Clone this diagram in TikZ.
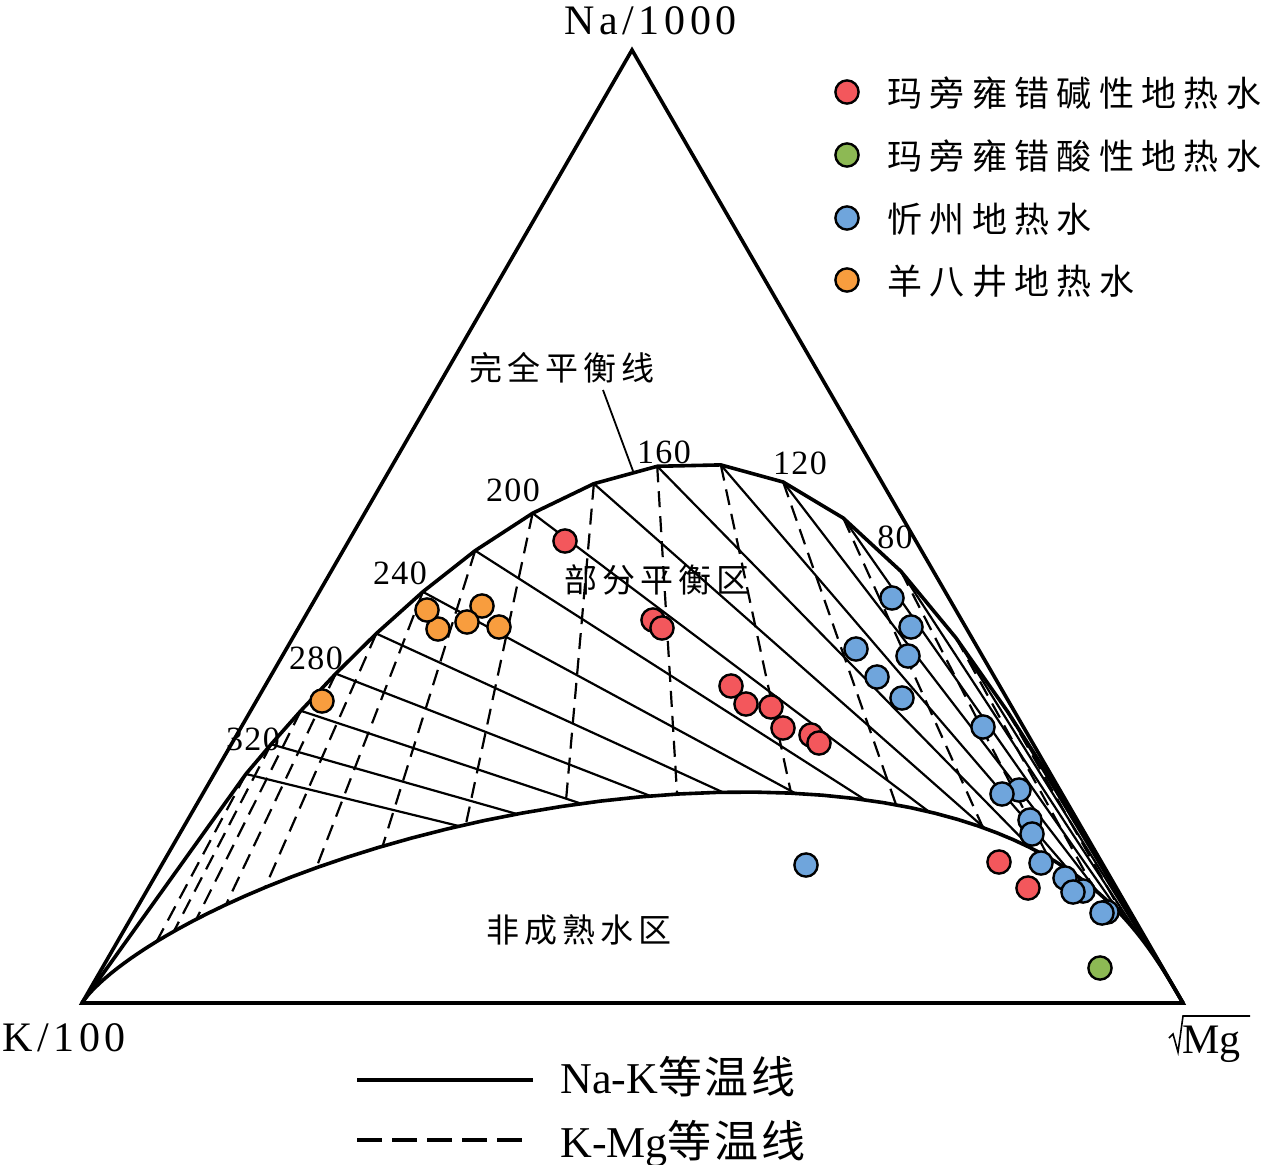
\documentclass[tikz,border=0pt]{standalone}
\usepackage{fontspec}
\setmainfont{Liberation Serif}
\newfontfamily\axfont[LetterSpace=11]{Liberation Serif}
\newfontfamily\numfont[LetterSpace=4]{Liberation Serif}
\newfontfamily\cjkleg[LetterSpace=21]{Noto Sans CJK SC}
\newfontfamily\cjkreg[LetterSpace=15]{Noto Sans CJK SC}
\newfontfamily\cjkbot[LetterSpace=6]{Noto Sans CJK SC}
% ternary mapping: #1 = log10(Na/K), #2 = log10(K/sqrt(Mg))
\newcommand\gbX[2]{\fpeval{round((632*10^(#1)/1000+0.82+1183*10^(-(#2)))/(10^(#1)/1000+0.01+10^(-(#2))),2)}}
\newcommand\gbY[2]{\fpeval{round((50*10^(#1)/1000+10.03+1003*10^(-(#2)))/(10^(#1)/1000+0.01+10^(-(#2))),2)}}
\definecolor{cred}{RGB}{243,87,92}
\definecolor{cgreen}{RGB}{141,185,84}
\definecolor{cblue}{RGB}{111,165,220}
\definecolor{corange}{RGB}{248,157,62}
\tikzset{
  frame/.style={line width=1.8pt, line join=miter},
  eqcurve/.style={line width=1.8pt, line join=round},
  naK/.style={line width=1.1pt},
  kMg/.style={line width=1.1pt, dash pattern=on 8pt off 4.5pt},
  leader/.style={line width=0.9pt},
  radical/.style={line width=0.8pt, line join=miter},
  sample/.style={circle, draw=black, line width=1.2pt, minimum size=11.6pt, inner sep=0pt},
  numlab/.style={inner sep=0pt, font=\fontsize{17}{20}\selectfont\numfont},
  reglab/.style={inner sep=0pt, anchor=west, font=\fontsize{16.5}{20}\selectfont\cjkreg},
  leglab/.style={inner sep=0pt, anchor=west, font=\fontsize{17.5}{21}\selectfont\cjkleg},
  axlab/.style={inner sep=0pt, anchor=base west, font=\fontsize{21}{25}\selectfont\axfont},
  mglab/.style={inner sep=0pt, anchor=base west, font=\fontsize{21}{25}\selectfont},
  botlab/.style={inner sep=0pt, anchor=base west, font=\fontsize{22}{26}\selectfont},
  legsolid/.style={line width=1.7pt},
  legdash/.style={line width=1.7pt, dash pattern=on 12.5pt off 5pt}
}
\begin{document}
\begin{tikzpicture}[x=0.5pt,y=-0.5pt]
\useasboundingbox (0,0) rectangle (1262,1164);
\coordinate (T) at (632,50);
\coordinate (BL) at (82,1003);
\coordinate (BR) at (1183,1003);

% isotherm points
\foreach \t in {20,40,...,340}{
  \edef\lnk{\fpeval{1390/(\t+273.15)-1.75}}
  \edef\lkm{\fpeval{(14-4410/(\t+273.15))/2}}
  \edef\lkmN{\fpeval{(2-(\lnk))/0.63}}
  \edef\lnkM{\fpeval{2-0.63*(\lkm)}}
  \edef\fx{\gbX{\lnk}{\lkm}}\edef\fy{\gbY{\lnk}{\lkm}}
  \edef\nx{\gbX{\lnk}{\lkmN}}\edef\ny{\gbY{\lnk}{\lkmN}}
  \edef\mx{\gbX{\lnkM}{\lkm}}\edef\my{\gbY{\lnkM}{\lkm}}
  \coordinate (F\t) at (\fx,\fy);
  \coordinate (N\t) at (\nx,\ny);
  \coordinate (M\t) at (\mx,\my);
}

% immature-water boundary (MI = 2.0)
\gdef\lowpath{}
\foreach \u in {-1.6,-1.55,...,4.6}{
  \edef\lk{\fpeval{(2-(\u))/0.63}}
  \xdef\lowpath{\lowpath -- (\gbX{\u}{\lk},\gbY{\u}{\lk})}
}

% isotherms
\foreach \t in {20,40,...,340}{
  \draw[naK] (F\t) -- (N\t);
  \draw[kMg] (F\t) -- (M\t);
}

% curves
\draw[eqcurve] (BL) \foreach \t in {340,320,...,20}{ -- (F\t) } -- (BR);
\draw[eqcurve] (BL) \lowpath -- (BR);

% triangle
\draw[frame] (T) -- (BL) -- (BR) -- cycle;

% leader for full-equilibrium line
\coordinate (ldA) at (603,390);
\coordinate (ldB) at (633,471);
\draw[leader] (ldA) -- (ldB);

% samples
\foreach \p [count=\i] in {(565,541),(653,620),(662,628),(731,686),(746,704),(771,707),(783,728),(811,735),(819,743),(999,862),(1028,888)}
  \node[sample, fill=cred] (r\i) at \p {};
\node[sample, fill=cgreen] (g1) at (1100,968) {};
\foreach \p [count=\i] in {(892,598),(911,627),(856,649),(908,656),(877,677),(902,698),(983,727),(1019,790),(1002,794),(1030,820),(1032,834),(1041,863),(1083,891),(1065,878),(1073,892),(1107,912),(1102,913),(806,865)}
  \node[sample, fill=cblue] (b\i) at \p {};
\foreach \p [count=\i] in {(438,629),(427,610),(482,606),(467,622),(499,627),(322,701)}
  \node[sample, fill=corange] (o\i) at \p {};

% temperature labels
\node[numlab] (t320) at (253,739) {320};
\node[numlab] (t280) at (316,658) {280};
\node[numlab] (t240) at (400,573) {240};
\node[numlab] (t200) at (513,490) {200};
\node[numlab] (t160) at (664,452) {160};
\node[numlab] (t120) at (800,463) {120};
\node[numlab] (t80) at (895,537) {80};

% region labels
\node[reglab] (lfull) at (469,368) {完全平衡线};
\node[reglab] (lpart) at (564,580) {部分平衡区};
\node[reglab] (limm) at (486,930) {非成熟水区};

% axis labels
\node[axlab] (axNa) at (564,34) {Na/1000};
\node[axlab] (axK) at (2,1051) {K/100};
\node[mglab] (axMg) at (1182,1053) {Mg};
\coordinate (rdA) at (1169,1038);
\coordinate (rdB) at (1173,1034);
\coordinate (rdC) at (1178,1052);
\coordinate (rdD) at (1183,1016);
\coordinate (rdE) at (1250,1016);
\draw[radical] (rdA) -- (rdB) -- (rdC) -- (rdD) -- (rdE);

% legend (top right)
\node[sample, fill=cred] (k1) at (847,92) {};
\node[sample, fill=cgreen] (k2) at (847,155) {};
\node[sample, fill=cblue] (k3) at (847,218) {};
\node[sample, fill=corange] (k4) at (847,280) {};
\node[leglab] (kt1) at (887,93) {玛旁雍错碱性地热水};
\node[leglab] (kt2) at (887,156) {玛旁雍错酸性地热水};
\node[leglab] (kt3) at (887,219) {忻州地热水};
\node[leglab] (kt4) at (887,281) {羊八井地热水};

% legend (bottom)
\coordinate (lsA) at (357,1080);
\coordinate (lsB) at (533,1080);
\coordinate (ldA2) at (357,1140);
\coordinate (ldB2) at (524,1140);
\draw[legsolid] (lsA) -- (lsB);
\draw[legdash] (ldA2) -- (ldB2);
\node[botlab] (bt1) at (560,1093) {Na-K\cjkbot 等温线};
\node[botlab] (bt2) at (560,1157) {K-Mg\cjkbot 等温线};
\end{tikzpicture}
\end{document}
